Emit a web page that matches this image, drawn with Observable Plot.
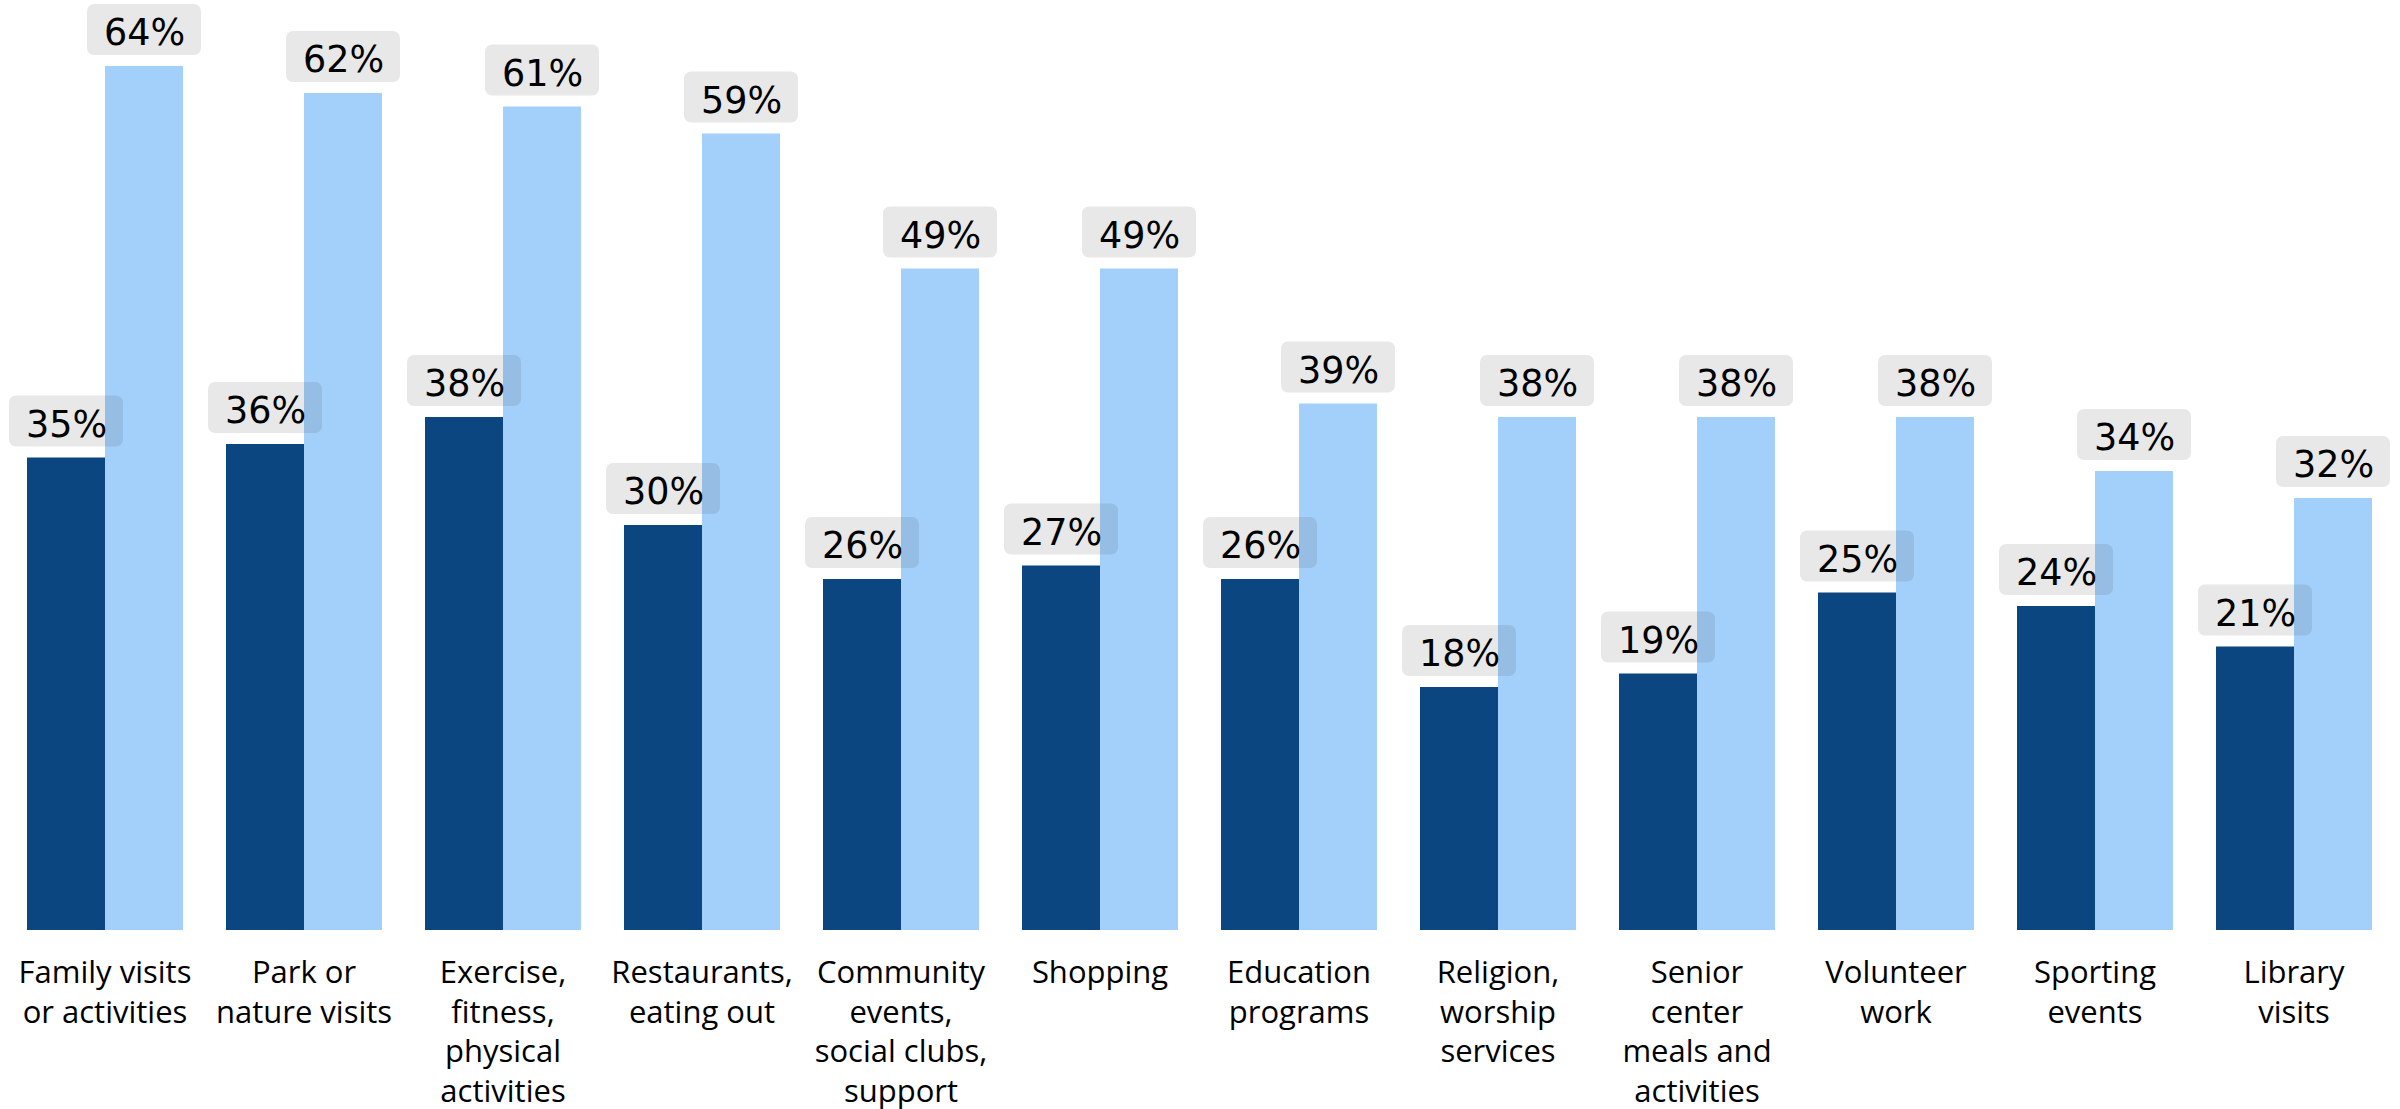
<!DOCTYPE html>
<html>
<head>
<meta charset="utf-8">
<script src="https://cdn.jsdelivr.net/npm/d3@7"></script>
<script src="https://cdn.jsdelivr.net/npm/@observablehq/plot@0.6"></script>
<style>
  html, body { margin: 0; padding: 0; background: #fff; }
  #chart svg { display: block; }
</style>
</head>
<body>
<div id="chart"></div>
<script>
const categories = [
  "Family visits\nor activities",
  "Park or\nnature visits",
  "Exercise,\nfitness,\nphysical\nactivities",
  "Restaurants,\neating out",
  "Community\nevents,\nsocial clubs,\nsupport",
  "Shopping",
  "Education\nprograms",
  "Religion,\nworship\nservices",
  "Senior\ncenter\nmeals and\nactivities",
  "Volunteer\nwork",
  "Sporting\nevents",
  "Library\nvisits"
];
const series = ["Series 1", "Series 2"];
const series1Values = [35, 36, 38, 30, 26, 27, 26, 18, 19, 25, 24, 21];
const series2Values = [64, 62, 61, 59, 49, 49, 39, 38, 38, 38, 34, 32];
const colors = ["#0b4680", "#a3d0fb"];

const data = [];
categories.forEach((c, i) => {
  data.push({cat: c, series: series[0], value: series1Values[i]});
  data.push({cat: c, series: series[1], value: series2Values[i]});
});

const chart = Plot.plot({
  width: 2400,
  height: 1109,
  marginLeft: 5,
  marginRight: 7,
  marginTop: 66,
  marginBottom: 179,
  style: {background: "#fff"},
  fx: {domain: categories, paddingInner: 0.211, paddingOuter: 0.1055, label: null},
  x: {domain: series, padding: 0, axis: null},
  y: {domain: [0, 64], axis: null},
  color: {domain: series, range: colors},
  marks: [
    Plot.barY(data, {fx: "cat", x: "series", y: "value", fill: "series"}),
    Plot.barY(data, {
      fx: "cat", x: "series", y1: "value", y2: "value",
      fill: "#2a2a2a", fillOpacity: 0.11,
      insetTop: -62, insetBottom: 11, insetLeft: -18, insetRight: -18,
      rx: 7
    }),
    Plot.text(data, {
      fx: "cat", x: "series", y: "value", text: d => d.value + "%",
      dy: -33, fontSize: 36.5, fontFamily: "DejaVu Sans", fill: "#000"
    }),
    Plot.axisFx({
      anchor: "bottom", tickSize: 0, tickPadding: 25, label: null,
      fontSize: 31, fontFamily: "Open Sans", lineHeight: 1.27, fill: "#000"
    })
  ]
});
document.getElementById("chart").appendChild(chart);
</script>
</body>
</html>
